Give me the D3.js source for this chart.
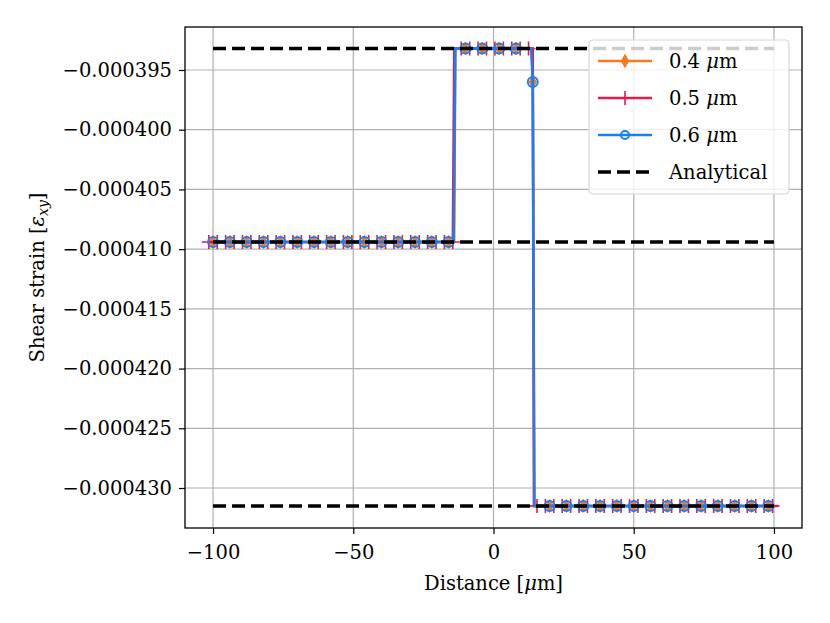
<!DOCTYPE html>
<html>
  <head>
    <title>Shear strain</title>
    <script src="https://cdn.jsdelivr.net/npm/d3@7"></script>
    <style>
      body { margin: 0; background: #fff; }
      text { font-family: "DejaVu Serif", serif; fill: #000; }
    </style>
  </head>
  <body>
    <svg width="830" height="623" id="mainsvg"></svg>
    <script>
      // plateau levels
      const L = -0.0004094, T = -0.0003932, B = -0.0004315, M = -0.000396;

      const xTicks = [-100, -50, 0, 50, 100];
      const yTicks = [-0.000395, -0.000400, -0.000405, -0.000410, -0.000415, -0.000420, -0.000425, -0.000430];

      // line vertices of each series
      const orangeX = [-100, -14.0, -13.6, 13.6, 14.0, 14.4, 100];
      const orangeY = [L, L, T, T, M, B, B];
      const redX = [-101.5, -14.5, -14.0, 14.0, 14.5, 101.5];
      const redY = [L, L, T, T, B, B];
      const blueX = [-100, -14.2, -13.6, 13.4, 14.0, 14.6, 100];
      const blueY = [L, L, T, T, M, B, B];

      // marker positions
      const markX = [-100, -94, -88, -82, -76, -70, -64, -58, -52, -46, -40, -34, -28, -22, -16,
                     -10, -4, 2, 8, 14,
                     20, 26, 32, 38, 44, 50, 56, 62, 68, 74, 80, 86, 92, 98];
      const markY = [L, L, L, L, L, L, L, L, L, L, L, L, L, L, L,
                     T, T, T, T, M,
                     B, B, B, B, B, B, B, B, B, B, B, B, B, B];
      const redMarkX = [-101.5, -98.5, -95.5, -92.5, -89.5, -86.5, -83.5, -80.5, -77.5, -74.5,
                        -71.5, -68.5, -65.5, -62.5, -59.5, -56.5, -53.5, -50.5, -47.5, -44.5,
                        -41.5, -38.5, -35.5, -32.5, -29.5, -26.5, -23.5, -20.5, -17.5, -14.5,
                        -11.5, -8.5, -5.5, -2.5, 0.5, 3.5, 6.5, 9.5, 12.5,
                        15.5, 18.5, 21.5, 24.5, 27.5, 30.5, 33.5, 36.5, 39.5, 42.5, 45.5,
                        48.5, 51.5, 54.5, 57.5, 60.5, 63.5, 66.5, 69.5, 72.5, 75.5,
                        78.5, 81.5, 84.5, 87.5, 90.5, 93.5, 96.5, 99.5];
      const redMarkY = [L, L, L, L, L, L, L, L, L, L, L, L, L, L, L, L, L, L, L, L,
                        L, L, L, L, L, L, L, L, L, L,
                        T, T, T, T, T, T, T, T, T,
                        B, B, B, B, B, B, B, B, B, B, B, B, B, B, B, B, B, B, B, B,
                        B, B, B, B, B, B, B, B, B];

      // analytical solution
      const anaX = [-100, 100];
      const anaLevels = [T, L, B];

      const names = ['0.4 μm', '0.5 μm', '0.6 μm', 'Analytical'];
      const colors = ['#f57a1f', '#e8194d', '#1a80f2', '#000000'];

      const svg = d3.select('#mainsvg');
      const margin = {top: 27, right: 28, bottom: 95, left: 185};
      const innerWidth = 830 - margin.left - margin.right;
      const innerHeight = 623 - margin.top - margin.bottom;
      const g = svg.append('g').attr('transform', `translate(${margin.left}, ${margin.top})`);

      const x = d3.scaleLinear().domain([-110, 110]).range([0, innerWidth]);
      const y = d3.scaleLinear().domain([-0.00043335, -0.0003914]).range([innerHeight, 0]);

      // grid
      g.append('g').selectAll('line').data(xTicks).join('line')
        .attr('x1', d => x(d)).attr('x2', d => x(d))
        .attr('y1', 0).attr('y2', innerHeight)
        .attr('stroke', '#b0b0b0').attr('stroke-width', 1.2);
      g.append('g').selectAll('line').data(yTicks).join('line')
        .attr('y1', d => y(d)).attr('y2', d => y(d))
        .attr('x1', 0).attr('x2', innerWidth)
        .attr('stroke', '#b0b0b0').attr('stroke-width', 1.2);

      const line = d3.line().x(d => x(d[0])).y(d => y(d[1]));
      const pts = (xs, ys) => xs.map((v, i) => [v, ys[i]]);

      // orange series
      g.append('path').datum(pts(orangeX, orangeY))
        .attr('d', line).attr('fill', 'none').attr('stroke', colors[0]).attr('stroke-width', 2.5);
      const diamond = 'M0,-6.5L3.6,0L0,6.5L-3.6,0Z';
      g.append('g').selectAll('path').data(pts(markX, markY)).join('path')
        .attr('transform', d => `translate(${x(d[0])},${y(d[1])})`)
        .attr('d', diamond).attr('fill', colors[0]).attr('stroke', colors[0]).attr('stroke-width', 1);

      // red series
      g.append('path').datum(pts(redX, redY))
        .attr('d', line).attr('fill', 'none').attr('stroke', colors[1]).attr('stroke-width', 2.5);
      const plus = 'M-7,0H7M0,-7V7';
      g.append('g').selectAll('path').data(pts(redMarkX, redMarkY)).join('path')
        .attr('transform', d => `translate(${x(d[0])},${y(d[1])})`)
        .attr('d', plus).attr('fill', 'none').attr('stroke', colors[1]).attr('stroke-width', 1.6);

      // blue series
      g.append('path').datum(pts(blueX, blueY))
        .attr('d', line).attr('fill', 'none').attr('stroke', colors[2]).attr('stroke-width', 2.5);
      g.append('g').selectAll('circle').data(pts(markX, markY)).join('circle')
        .attr('cx', d => x(d[0])).attr('cy', d => y(d[1])).attr('r', 5)
        .attr('fill', 'none').attr('stroke', colors[2]).attr('stroke-width', 2);

      // analytical
      g.append('g').selectAll('path').data(anaLevels).join('path')
        .attr('d', v => line(anaX.map(a => [a, v])))
        .attr('fill', 'none').attr('stroke', '#000').attr('stroke-width', 3.5)
        .attr('stroke-dasharray', '13 6');

      // axes
      const xAxis = g.append('g').attr('transform', `translate(0,${innerHeight})`)
        .call(d3.axisBottom(x).tickValues(xTicks).tickSize(6).tickPadding(6));
      const yAxis = g.append('g')
        .call(d3.axisLeft(y).tickValues(yTicks).tickSize(6).tickPadding(7).tickFormat(d3.format('.6f')));
      [xAxis, yAxis].forEach(a => {
        a.attr('font-family', '"DejaVu Serif", serif').attr('font-size', 19.5);
        a.select('.domain').remove();
        a.selectAll('line').attr('stroke', '#000').attr('stroke-width', 1.2);
        a.selectAll('text').attr('fill', '#000');
      });
      xAxis.selectAll('text').attr('dy', '0.95em');
      g.append('rect').attr('width', innerWidth).attr('height', innerHeight)
        .attr('fill', 'none').attr('stroke', '#000').attr('stroke-width', 1.3);

      // axis labels
      const xl = svg.append('text').attr('x', margin.left + innerWidth / 2).attr('y', 590)
        .attr('text-anchor', 'middle').attr('font-size', 19.5);
      xl.append('tspan').text('Distance [');
      xl.append('tspan').attr('font-style', 'italic').text('μ');
      xl.append('tspan').text('m]');

      const yl = svg.append('text')
        .attr('transform', `translate(44,${margin.top + innerHeight / 2}) rotate(-90)`)
        .attr('text-anchor', 'middle').attr('font-size', 19.5);
      yl.append('tspan').text('Shear strain [');
      yl.append('tspan').attr('font-style', 'italic').text('ε');
      yl.append('tspan').attr('font-style', 'italic').attr('font-size', 14).attr('dy', 4).text('xy');
      yl.append('tspan').attr('dy', -4).text(']');

      // legend
      const lg = svg.append('g').attr('transform', 'translate(589,40)');
      lg.append('rect').attr('width', 200).attr('height', 154).attr('rx', 4)
        .attr('fill', 'rgba(255,255,255,0.8)').attr('stroke', '#d6d6d6').attr('stroke-width', 1.2);
      const rows = lg.selectAll('g.row').data(names).join('g').attr('class', 'row')
        .attr('transform', (d, i) => `translate(0,${21 + i * 37})`);
      rows.append('line').attr('x1', 9).attr('x2', 63).attr('y1', 0).attr('y2', 0)
        .attr('stroke', (d, i) => colors[i])
        .attr('stroke-width', (d, i) => i === 3 ? 3.5 : 2.5)
        .attr('stroke-dasharray', (d, i) => i === 3 ? '13 6' : null);
      rows.filter((d, i) => i === 0).append('path').attr('transform', 'translate(36,0)')
        .attr('d', diamond).attr('fill', colors[0]).attr('stroke', colors[0]);
      rows.filter((d, i) => i === 1).append('path').attr('transform', 'translate(36,0)')
        .attr('d', plus).attr('fill', 'none').attr('stroke', colors[1]).attr('stroke-width', 1.6);
      rows.filter((d, i) => i === 2).append('circle').attr('cx', 36).attr('r', 4)
        .attr('fill', 'none').attr('stroke', colors[2]).attr('stroke-width', 2);
      rows.each(function(d) {
        const t = d3.select(this).append('text').attr('x', 80).attr('dy', '0.35em').attr('font-size', 19.5);
        if (d === 'Analytical') { t.text(d); return; }
        const parts = d.split(' ');
        t.append('tspan').text(parts[0] + ' ');
        t.append('tspan').attr('font-style', 'italic').text('μ');
        t.append('tspan').text('m');
      });
    </script>
  </body>
</html>
